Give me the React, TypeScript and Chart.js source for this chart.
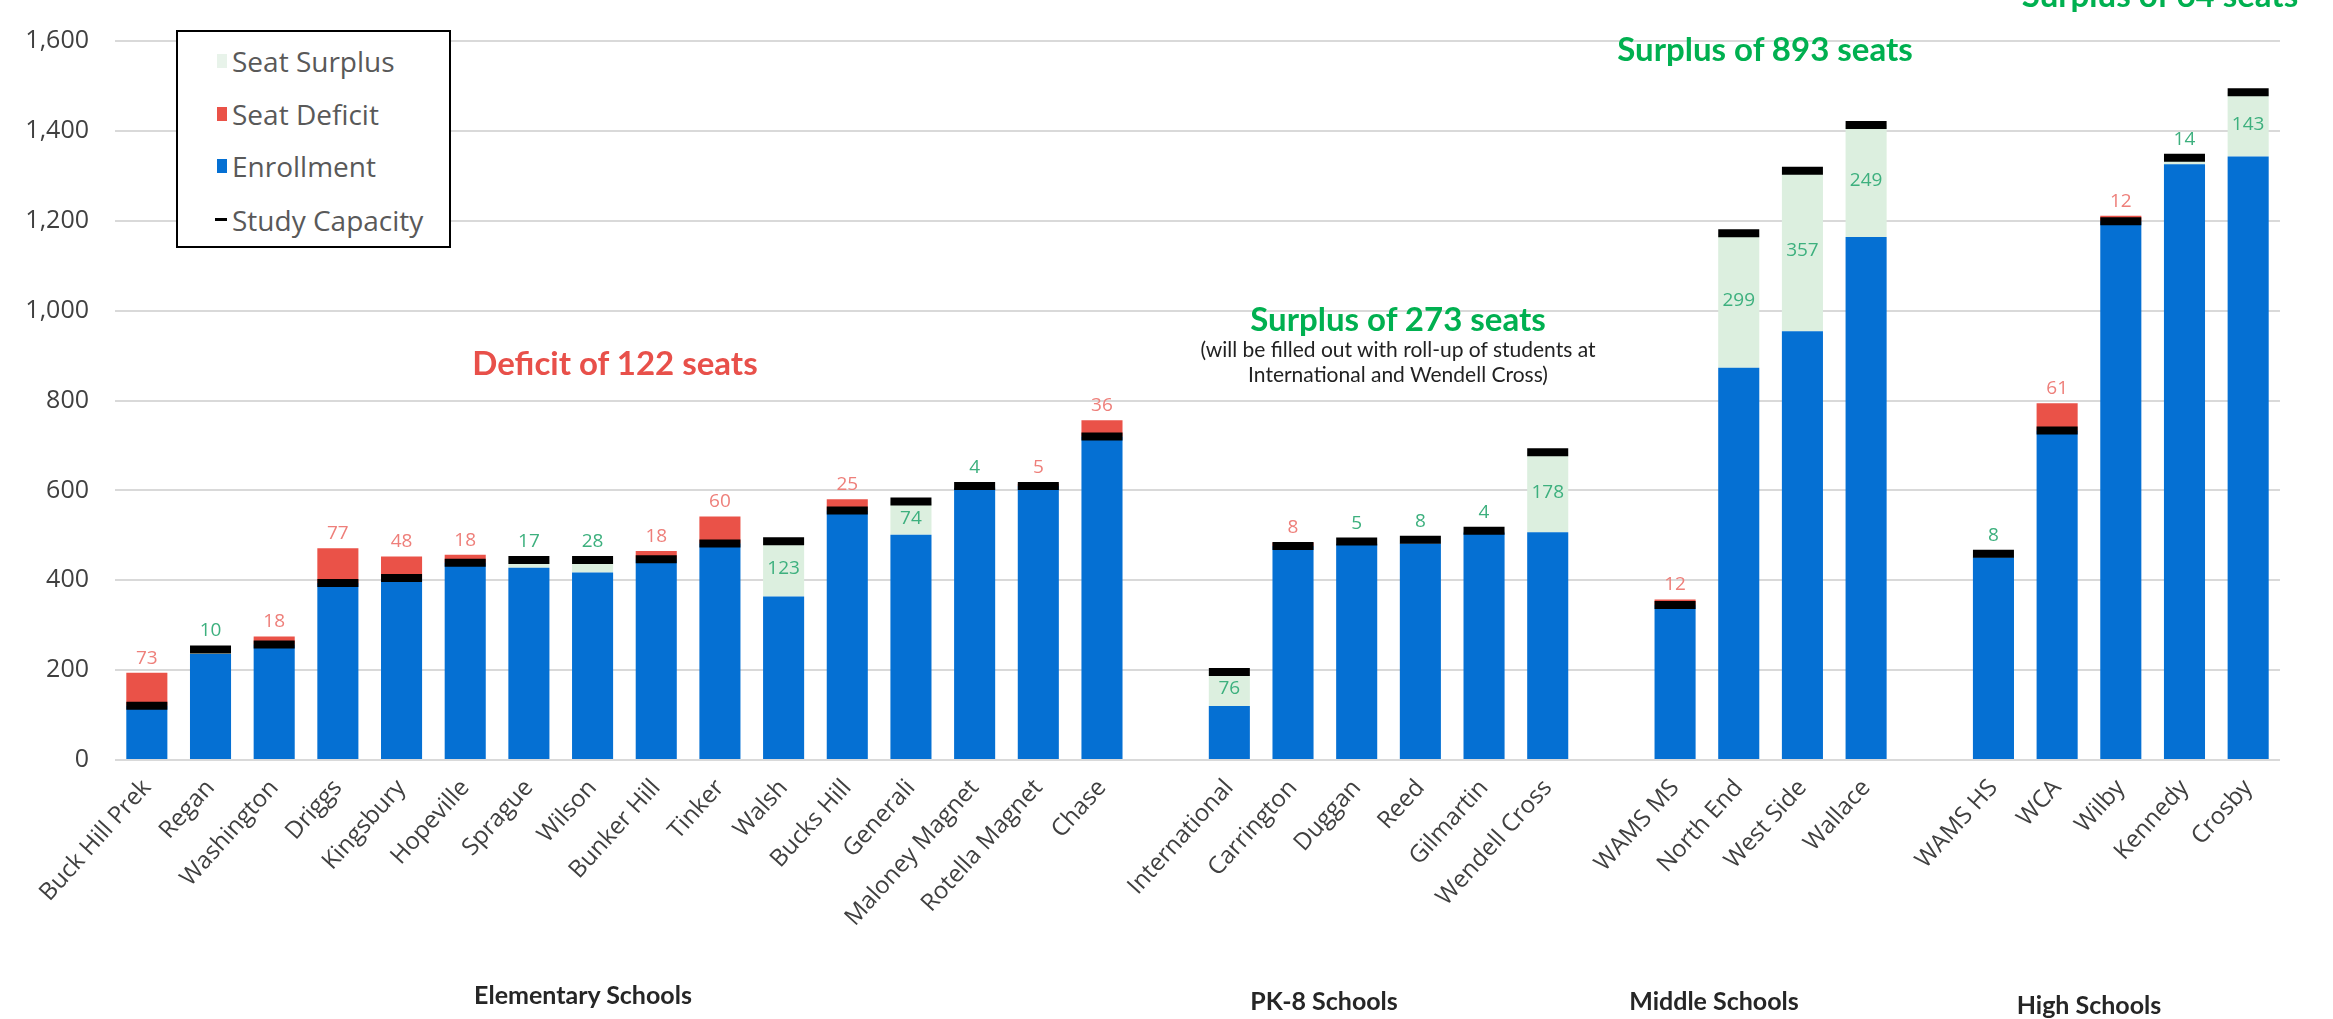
import React, { useEffect, useRef } from "react";
import { Chart, registerables } from "chart.js";

Chart.register(...registerables);

// ---- data ----
const schools: string[] = [
  "Buck Hill Prek", "Regan", "Washington", "Driggs", "Kingsbury", "Hopeville", "Sprague", "Wilson",
  "Bunker Hill", "Tinker", "Walsh", "Bucks Hill", "Generali", "Maloney Magnet", "Rotella Magnet", "Chase",
  "",
  "International", "Carrington", "Duggan", "Reed", "Gilmartin", "Wendell Cross",
  "",
  "WAMS MS", "North End", "West Side", "Wallace",
  "",
  "WAMS HS", "WCA", "Wilby", "Kennedy", "Crosby",
];

const enrollment: (number | null)[] = [
  194, 236, 275, 471, 453, 457, 428, 417, 465, 542, 364, 580, 501, 606, 615, 756,
  null,
  120, 484, 481, 482, 506, 507,
  null,
  357, 873, 954, 1164,
  null,
  451, 794, 1211, 1326, 1343,
];

const studyCapacity: (number | null)[] = [
  121, 246, 257, 394, 405, 439, 445, 445, 447, 482, 487, 555, 575, 610, 610, 720,
  null,
  196, 476, 486, 490, 510, 685,
  null,
  345, 1172, 1311, 1413,
  null,
  459, 733, 1199, 1340, 1486,
];

const groupLabels: string[] = ["Elementary Schools", "PK-8 Schools", "Middle Schools", "High Schools"];
const yTicks: number[] = [0, 200, 400, 600, 800, 1000, 1200, 1400, 1600];

// ---- styles ----
const BLUE = "#0570D3";
const RED = "#EA5248";
const GREEN_FILL = "#DCEFDF";
const GREEN_TEXT = "#00B050";
const RED_TEXT = "#E8504A";

const blueSeg = enrollment.map((e, i) => {
  const c = studyCapacity[i];
  return e == null || c == null ? null : Math.min(e, c);
});
const redSeg = enrollment.map((e, i) => {
  const c = studyCapacity[i];
  return e == null || c == null ? null : Math.max(e - c, 0);
});
const greenSeg = enrollment.map((e, i) => {
  const c = studyCapacity[i];
  return e == null || c == null ? null : Math.max(c - e, 0);
});

const labelPlugin = {
  id: "segLabels",
  afterDatasetsDraw(chart: any) {
    const ctx = chart.ctx;
    const y = chart.scales.y;
    const x = chart.scales.x;
    ctx.save();
    ctx.font = "19px 'Open Sans'";
    ctx.textAlign = "center";
    enrollment.forEach((e, i) => {
      const c = studyCapacity[i];
      if (e == null || c == null) return;
      const cx = x.getPixelForValue(i);
      const diff = e - c;
      const pe = y.getPixelForValue(e);
      const pc = y.getPixelForValue(c);
      if (diff > 0) {
        ctx.fillStyle = "#EE7F7A";
        ctx.textBaseline = "bottom";
        ctx.fillText(String(diff), cx, Math.min(pe, pc - 4) - 5);
      } else {
        const s = -diff;
        ctx.fillStyle = "#3DB07E";
        if (s >= 50) {
          ctx.textBaseline = "middle";
          ctx.fillText(String(s), cx, (pe + pc) / 2);
        } else {
          ctx.textBaseline = "bottom";
          ctx.fillText(String(s), cx, pc - 4 - 5);
        }
      }
    });
    ctx.restore();
  },
};

const abs = (left: number, top: number, extra: React.CSSProperties = {}): React.CSSProperties => ({
  position: "absolute",
  left,
  top,
  transform: "translate(-50%, -50%)",
  whiteSpace: "nowrap",
  ...extra,
});

export default function App() {
  const ref = useRef<HTMLCanvasElement | null>(null);

  useEffect(() => {
    if (!ref.current) return;
    const chart = new Chart(ref.current, {
      type: "bar",
      data: {
        labels: schools,
        datasets: [
          {
            type: "line",
            label: "Study Capacity",
            data: studyCapacity,
            showLine: false,
            pointStyle: "line",
            pointRadius: 20.5,
            pointHoverRadius: 20.5,
            pointBorderWidth: 8,
            pointHoverBorderWidth: 8,
            pointBorderColor: "#000",
            borderColor: "#000",
            backgroundColor: "#000",
            stack: "cap",
            order: 0,
          } as any,
          { label: "Enrollment", data: blueSeg, backgroundColor: BLUE, stack: "s", order: 1 },
          { label: "Seat Deficit", data: redSeg, backgroundColor: RED, stack: "s", order: 1 },
          { label: "Seat Surplus", data: greenSeg, backgroundColor: GREEN_FILL, stack: "s", order: 1 },
        ],
      },
      options: {
        responsive: true,
        maintainAspectRatio: false,
        animation: false,
        events: [],
        layout: { padding: { top: 22, right: 53, left: 0, bottom: 0 } },
        datasets: { bar: { barPercentage: 0.645, categoryPercentage: 1 } },
        plugins: { legend: { display: false }, tooltip: { enabled: false } },
        scales: {
          x: {
            offset: true,
            grid: { display: false, drawTicks: false },
            border: { display: false },
            ticks: {
              autoSkip: false,
              maxRotation: 48,
              minRotation: 48,
              padding: 14,
              color: "#404040",
              font: { family: "'Open Sans'", size: 24 },
            },
            afterFit: (s: any) => {
              s.height = 259;
            },
          },
          y: {
            stacked: true,
            min: 0,
            max: 1600,
            afterBuildTicks: (s: any) => {
              s.ticks = yTicks.map((v) => ({ value: v }));
            },
            grid: { color: "#D9D9D9", lineWidth: 2, drawTicks: false },
            border: { display: false },
            ticks: {
              padding: 26,
              color: "#404040",
              font: { family: "'Open Sans'", size: 25 },
              callback: (v: any) => Number(v).toLocaleString("en-US"),
            },
            afterFit: (s: any) => {
              s.width = 115;
            },
          },
        },
      },
      plugins: [labelPlugin],
    });
    return () => chart.destroy();
  }, []);

  const big: React.CSSProperties = { fontFamily: "Lato", fontWeight: 700, fontSize: 33 };
  const sub: React.CSSProperties = { fontFamily: "Lato", fontSize: 21, color: "#222" };
  const grp: React.CSSProperties = { fontFamily: "Lato", fontWeight: 700, fontSize: 25, color: "#262626" };
  const legText: React.CSSProperties = {
    position: "absolute",
    left: 54,
    fontFamily: "'Open Sans'",
    fontSize: 28,
    color: "#595959",
    transform: "translateY(-50%)",
    whiteSpace: "nowrap",
  };

  return (
    <div style={{ position: "fixed", left: 0, top: 0, width: 2333, height: 1019, background: "#fff", overflow: "hidden" }}>
      <canvas ref={ref} style={{ position: "absolute", left: 0, top: 0 }} />
      {/* legend */}
      <div
        style={{
          position: "absolute",
          left: 176,
          top: 30,
          width: 271,
          height: 214,
          border: "2px solid #000",
          background: "#fff",
        }}
      >
        <div style={{ position: "absolute", left: 39, top: 22, width: 10, height: 14, background: "#E8F3EA" }} />
        <div style={{ ...legText, top: 29 }}>Seat Surplus</div>
        <div style={{ position: "absolute", left: 39, top: 75, width: 10, height: 14, background: RED }} />
        <div style={{ ...legText, top: 82 }}>Seat Deficit</div>
        <div style={{ position: "absolute", left: 39, top: 127, width: 10, height: 14, background: BLUE }} />
        <div style={{ ...legText, top: 134 }}>Enrollment</div>
        <div style={{ position: "absolute", left: 37, top: 186, width: 12, height: 3, background: "#000" }} />
        <div style={{ ...legText, top: 188 }}>Study Capacity</div>
      </div>
      {/* annotations */}
      <div style={abs(615, 362, { ...big, color: RED_TEXT })}>Deficit of 122 seats</div>
      <div style={abs(1398, 318, { ...big, color: GREEN_TEXT })}>Surplus of 273 seats</div>
      <div style={abs(1398, 348, sub)}>(will be filled out with roll-up of students at</div>
      <div style={abs(1398, 373, sub)}>International and Wendell Cross)</div>
      <div style={abs(1765, 48, { ...big, color: GREEN_TEXT })}>Surplus of 893 seats</div>
      <div style={abs(2160, -6, { ...big, color: GREEN_TEXT })}>Surplus of 64 seats</div>
      {/* group labels */}
      <div style={abs(583, 994, grp)}>{groupLabels[0]}</div>
      <div style={abs(1324, 1000, grp)}>{groupLabels[1]}</div>
      <div style={abs(1714, 1000, grp)}>{groupLabels[2]}</div>
      <div style={abs(2089, 1004, grp)}>{groupLabels[3]}</div>
    </div>
  );
}
